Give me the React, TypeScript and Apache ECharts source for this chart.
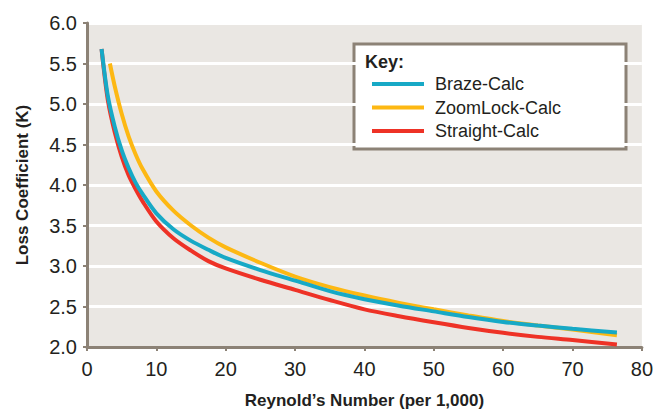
import React, { useEffect, useRef } from "react";
import * as echarts from "echarts";

const xTicks = [0, 10, 20, 30, 40, 50, 60, 70, 80];
const yTicks = ["2.0", "2.5", "3.0", "3.5", "4.0", "4.5", "5.0", "5.5", "6.0"];

const seriesNames = ["Braze-Calc", "ZoomLock-Calc", "Straight-Calc"];

const brazeX = [2.1, 3, 4, 5, 6, 7, 8, 10, 12.5, 15, 17.5, 20, 25, 30, 35, 40, 45, 50, 55, 60, 65, 70, 76.4];
const brazeY = [5.68, 5.1, 4.72, 4.43, 4.21, 4.03, 3.89, 3.65, 3.45, 3.31, 3.2, 3.1, 2.95, 2.82, 2.69, 2.59, 2.51, 2.44, 2.37, 2.31, 2.265, 2.225, 2.18];

const zoomX = [3.3, 4, 5, 6, 7, 8, 10, 12.5, 15, 17.5, 20, 25, 30, 35, 40, 45, 50, 55, 60, 65, 70, 76.4];
const zoomY = [5.5, 5.22, 4.88, 4.6, 4.38, 4.2, 3.92, 3.68, 3.5, 3.35, 3.23, 3.04, 2.87, 2.74, 2.635, 2.545, 2.465, 2.39, 2.32, 2.265, 2.215, 2.145];

const straightX = [2.1, 3, 4, 5, 6, 7, 8, 10, 12.5, 15, 17.5, 20, 25, 30, 35, 40, 45, 50, 55, 60, 65, 70, 76.4];
const straightY = [5.68, 5.05, 4.65, 4.35, 4.12, 3.95, 3.8, 3.55, 3.34, 3.19, 3.06, 2.97, 2.83, 2.705, 2.58, 2.465, 2.38, 2.305, 2.235, 2.175, 2.125, 2.085, 2.03];

const colors = ["#17a9c6", "#fdb813", "#ee3226"];

const FONT = "'Liberation Sans', Arial, Helvetica, sans-serif";
const AXIS_COLOR = "#8c8276";

function pairs(xs: number[], ys: number[]) {
  return xs.map((x, i) => [x, ys[i]]);
}

export default function App() {
  const ref = useRef<HTMLDivElement>(null);
  useEffect(() => {
    if (!ref.current) return;
    const chart = echarts.init(ref.current, null, { renderer: "svg" });
    const data = [pairs(brazeX, brazeY), pairs(zoomX, zoomY), pairs(straightX, straightY)];
    chart.setOption({
      animation: false,
      textStyle: { fontFamily: FONT },
      grid: {
        left: 87,
        right: 12,
        top: 23,
        bottom: 66,
        show: true,
        backgroundColor: "#eae7e3",
        borderWidth: 0,
      },
      xAxis: {
        type: "value",
        min: 0,
        max: 80,
        interval: 10,
        name: "Reynold\u2019s Number (per 1,000)",
        nameLocation: "middle",
        nameGap: 45,
        nameTextStyle: { fontSize: 17, fontWeight: "bold", color: "#231f20", fontFamily: FONT },
        axisLine: { show: true, lineStyle: { color: AXIS_COLOR, width: 3 } },
        axisTick: { show: true, length: 4, lineStyle: { color: AXIS_COLOR, width: 2 } },
        axisLabel: {
          fontSize: 20,
          color: "#231f20",
          margin: 12,
          fontFamily: FONT,
          formatter: (v: number) => (xTicks.includes(v) ? String(v) : ""),
        },
        splitLine: { show: false },
      },
      yAxis: {
        type: "value",
        min: 2,
        max: 6,
        interval: 0.5,
        name: "Loss Coefficient (K)",
        nameLocation: "middle",
        nameGap: 56,
        nameTextStyle: { fontSize: 17, fontWeight: "bold", color: "#231f20", fontFamily: FONT },
        axisLine: { show: true, lineStyle: { color: AXIS_COLOR, width: 3 } },
        axisTick: { show: true, length: 4, lineStyle: { color: AXIS_COLOR, width: 2 } },
        axisLabel: {
          fontSize: 20,
          color: "#231f20",
          margin: 10,
          fontFamily: FONT,
          formatter: (v: number) => yTicks[Math.round((v - 2) / 0.5)] ?? "",
        },
        splitLine: { show: true, lineStyle: { color: "#ffffff", width: 3 } },
      },
      legend: {
        orient: "vertical",
        left: 367,
        top: 70,
        itemWidth: 52,
        itemHeight: 4,
        itemGap: 5.5,
        icon: "rect",
        data: seriesNames,
        textStyle: { fontSize: 18, color: "#231f20", fontFamily: FONT, padding: [0, 0, 0, 6] },
      },
      graphic: [
        {
          type: "rect",
          shape: { x: 354, y: 44, width: 272, height: 105 },
          style: { fill: "#ffffff", stroke: AXIS_COLOR, lineWidth: 3 },
          z: 0,
        },
        {
          type: "text",
          x: 365,
          y: 62,
          style: {
            text: "Key:",
            font: `bold 18px ${FONT}`,
            fill: "#231f20",
            verticalAlign: "middle",
          },
          z: 1,
        },
      ],
      series: seriesNames.map((name, i) => ({
        name,
        type: "line",
        data: data[i],
        smooth: 0.3,
        showSymbol: false,
        symbol: "none",
        lineStyle: { color: colors[i], width: 4 },
        itemStyle: { color: colors[i] },
        z: 3 - i,
      })),
    });
    return () => chart.dispose();
  }, []);
  return (
    <div
      ref={ref}
      style={{ position: "absolute", left: 0, top: 0, width: 656, height: 414 }}
    />
  );
}
